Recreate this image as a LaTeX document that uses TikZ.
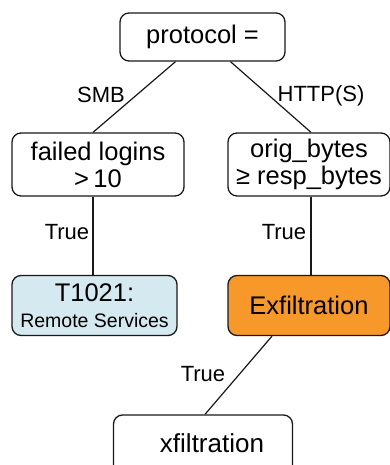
\documentclass[tikz,border=0pt]{standalone}
\usepackage{fontspec}
\setmainfont{Liberation Sans}
\begin{document}
\begin{tikzpicture}[x=1pt,y=-1pt,
  box/.style={draw=black!90,line width=1.3pt,rounded corners=9pt,inner sep=0pt,align=center,
    font=\fontsize{25.5}{28}\selectfont},
  lbl/.style={font=\fontsize{22}{24}\selectfont,inner sep=0pt},
  edge/.style={draw=black!90,line width=1.2pt}]
\useasboundingbox (0,0) rectangle (390,465);
\clip (0,0) rectangle (390,465);
\fill[white] (0,0) rectangle (390,465);
\node[box,minimum width=165pt,minimum height=48pt] (top) at (202.5,37) {protocol =};
\node[box,minimum width=172pt,minimum height=63pt] (fl) at (98,164.5) {failed logins\\[-1pt]>\,10};
\node[box,minimum width=162pt,minimum height=63pt] (or) at (309,164.5) {orig\_bytes\\[-1pt]≥ resp\_bytes};
\node[box,fill={rgb,255:red,213;green,233;blue,240},minimum width=165pt,minimum height=60pt] (t1) at (94.5,305.5)
  {T1021:\\[-2pt]{\fontsize{19.5}{22}\selectfont Remote Services}};
\node[box,fill={rgb,255:red,247;green,152;blue,42},minimum width=162pt,minimum height=60pt] (ex) at (309,305.5) {Exfiltration};
\node[box,minimum width=179pt,minimum height=70pt,text depth=0pt] (xf) at (203,450) {};
\node[font=\fontsize{26}{28}\selectfont,inner sep=0pt] (xft) at (212,443) {xfiltration};
\draw[edge] ([xshift=-27pt]top.south) -- ([xshift=-5pt]fl.north);
\draw[edge] ([xshift=28pt]top.south) -- ([xshift=2pt]or.north);
\draw[edge] ([xshift=-5pt]fl.south) -- ([xshift=-5pt]fl.south |- t1.north);
\draw[edge] ([xshift=2pt]or.south) -- ([xshift=2pt]or.south |- ex.north);
\draw[edge] ([xshift=-37pt]ex.south) -- ([xshift=2pt]xf.north);
\node[lbl] (smb) at (101,95) {SMB};
\node[lbl] (http) at (321,96) {HTTP(S)};
\node[lbl] (tr1) at (67,232) {True};
\node[lbl] (tr2) at (284,232) {True};
\node[lbl] (tr3) at (203,374) {True};
\end{tikzpicture}
\end{document}
